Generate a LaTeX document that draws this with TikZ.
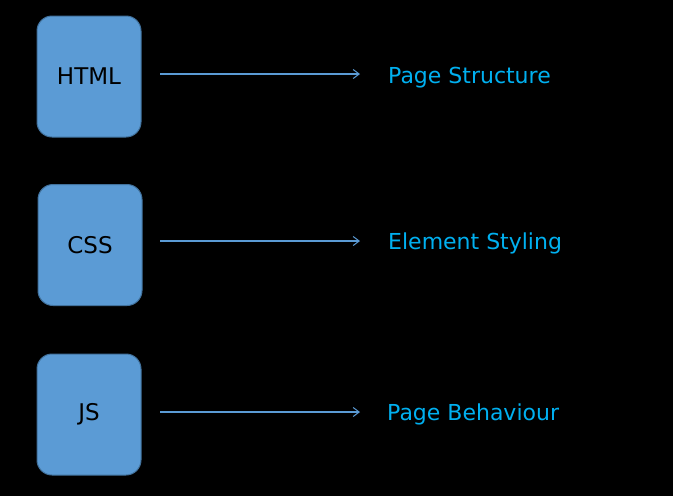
\documentclass[tikz,border=0pt]{standalone}
\usepackage{fontspec}
\setmainfont{DejaVu Sans}
\usetikzlibrary{arrows.meta}
\definecolor{boxfill}{HTML}{5B9BD5}
\definecolor{boxline}{HTML}{41719C}
\definecolor{labcol}{HTML}{00B0F0}
\definecolor{arrcol}{HTML}{5B9BD5}
\begin{document}
\begin{tikzpicture}[x=1pt,y=-1pt,
  tech/.style={draw=boxline, line width=1pt, fill=boxfill, rounded corners=15pt, minimum width=104pt, minimum height=121pt, inner sep=0pt, font=\fontsize{23}{26}\selectfont, text=black},
  lab/.style={anchor=west, inner sep=0pt, text=labcol, font=\fontsize{22}{26}\selectfont},
  conn/.style={draw=arrcol, line width=1.2pt, -{Straight Barb[length=6pt,width=9pt,line width=1pt]}}]
\fill[black] (0,0) rectangle (673,496);
\useasboundingbox (0,0) rectangle (673,496);
\node[tech] (html) at (89,76.5) {HTML};
\node[tech] (css) at (90,245) {CSS};
\node[tech] (js) at (89,414.5) {JS};
\coordinate (h1) at (160,74); \coordinate (h2) at (360,74);
\coordinate (c1) at (160,241); \coordinate (c2) at (360,241);
\coordinate (j1) at (160,412); \coordinate (j2) at (360,412);
\node[lab] (ps) at (388,78) {Page Structure};
\node[lab] (es) at (388,243) {Element Styling};
\node[lab] (pb) at (387,414) {Page Behaviour};
\draw[conn] (h1) -- (h2);
\draw[conn] (c1) -- (c2);
\draw[conn] (j1) -- (j2);
\end{tikzpicture}
\end{document}
